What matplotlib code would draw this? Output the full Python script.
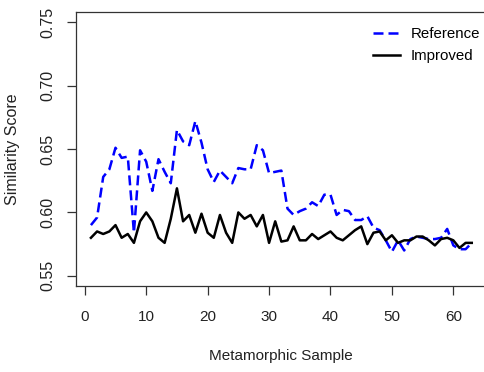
import numpy as np
import matplotlib
matplotlib.use("Agg")
import matplotlib.pyplot as plt

plt.rcParams['font.family'] = ['Liberation Sans', 'DejaVu Sans']

# similarity score per metamorphic sample (1..63)
samples = np.arange(1, 64)
reference = [0.590, 0.596, 0.628, 0.634, 0.651, 0.643, 0.644, 0.584, 0.649, 0.640,
             0.617, 0.642, 0.632, 0.623, 0.665, 0.656, 0.653, 0.672, 0.655, 0.634,
             0.624, 0.633, 0.628, 0.623, 0.635, 0.634, 0.634, 0.653, 0.649, 0.631,
             0.632, 0.633, 0.603, 0.598, 0.601, 0.603, 0.608, 0.605, 0.614, 0.614,
             0.598, 0.602, 0.601, 0.594, 0.594, 0.597, 0.588, 0.586, 0.578, 0.569,
             0.578, 0.570, 0.579, 0.581, 0.580, 0.579, 0.579, 0.580, 0.587, 0.574,
             0.571, 0.571, 0.576]
improved = [0.580, 0.585, 0.583, 0.585, 0.590, 0.580, 0.583, 0.576, 0.593, 0.600,
            0.593, 0.580, 0.576, 0.595, 0.619, 0.593, 0.598, 0.584, 0.599, 0.584,
            0.580, 0.598, 0.584, 0.576, 0.600, 0.595, 0.598, 0.589, 0.598, 0.576,
            0.593, 0.577, 0.578, 0.589, 0.578, 0.578, 0.583, 0.579, 0.582, 0.585,
            0.580, 0.578, 0.582, 0.586, 0.589, 0.575, 0.584, 0.585, 0.578, 0.582,
            0.576, 0.578, 0.578, 0.581, 0.581, 0.578, 0.574, 0.579, 0.580, 0.578,
            0.572, 0.576, 0.576]
xticks = [0, 10, 20, 30, 40, 50, 60]
yticks = [0.55, 0.60, 0.65, 0.70, 0.75]

fig = plt.figure(figsize=(4.84, 3.72), dpi=100)
ax = fig.add_axes([0.1564, 0.2312, 0.8498, 0.7365])

ax.plot(samples, reference, color='blue', lw=1.8, dashes=(4, 2), label='Reference')
ax.plot(samples, improved, color='black', lw=1.8, label='Improved')

ax.set_xlim(-1.48, 65.48)
ax.set_ylim(0.542, 0.758)
ax.set_xticks(xticks)
ax.set_yticks(yticks)
ax.set_yticklabels(['%.2f' % v for v in yticks], rotation=90, va='center')

axcol = '#333333'
for s in ax.spines.values():
    s.set_color(axcol)
    s.set_linewidth(0.9)
ax.tick_params(direction='out', length=6.5, width=0.9, color=axcol,
               labelcolor='#222222')
ax.tick_params(axis='x', pad=11, labelsize=11)
ax.tick_params(axis='y', pad=8, labelsize=11.5)

ax.set_xlabel('Metamorphic Sample', fontsize=11, labelpad=18, color='#222222')
ax.set_ylabel('Similarity Score', fontsize=11.5, labelpad=15, color='#222222')

ax.legend(loc='upper left', bbox_to_anchor=(365 / 484, 1 - 20 / 372),
          bbox_transform=fig.transFigure, frameon=False, fontsize=10.8,
          handlelength=1.85, handletextpad=0.7, borderpad=0, labelspacing=0.5)

fig.savefig('out.png', dpi=100)
